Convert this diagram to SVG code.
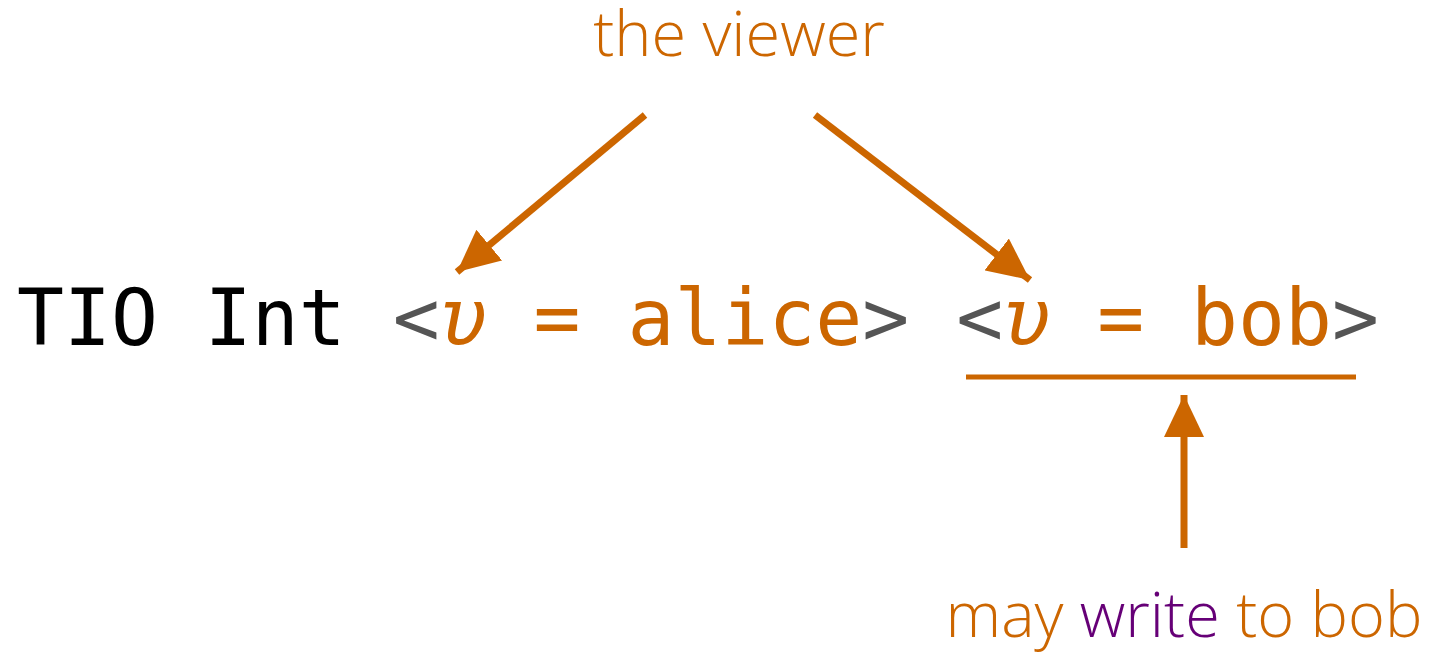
<svg xmlns="http://www.w3.org/2000/svg" width="1433" height="653" viewBox="0 0 1433 653">
<style>
.mono{font-family:"DejaVu Sans Mono",monospace;font-size:78px}
.lbl{font-family:"Open Sans","Liberation Sans",sans-serif;font-weight:300;font-size:63px}
.or{fill:#CC6600}.gr{fill:#555555}.bk{fill:#000000}.pu{fill:#660077}
.it{font-style:italic}
.conn{stroke:#CC6600;stroke-width:7;fill:none}
</style>
<defs>
<marker id="ah" markerUnits="userSpaceOnUse" markerWidth="44" markerHeight="40" refX="42" refY="20" orient="auto" viewBox="0 0 44 40">
<path d="M0,0 L42,20 L0,40 Z" fill="#CC6600"/>
</marker>
</defs>
<g id="type-expr">
<text class="mono" x="17" y="345"><tspan class="bk">TIO Int </tspan><tspan class="gr">&lt;</tspan><tspan class="or it">υ</tspan><tspan class="or"> = alice</tspan><tspan class="gr">&gt; &lt;</tspan><tspan class="or it">υ</tspan><tspan class="or"> = bob</tspan><tspan class="gr">&gt;</tspan></text>
</g>
<g id="label-viewer">
<text class="lbl or" x="739" y="56" text-anchor="middle">the viewer</text>
</g>
<g id="label-write">
<text class="lbl" x="1184" y="637" text-anchor="middle"><tspan class="or">may </tspan><tspan class="pu">write</tspan><tspan class="or"> to bob</tspan></text>
</g>
<g id="underline">
<line x1="966" y1="377" x2="1356" y2="377" stroke="#CC6600" stroke-width="5"/>
</g>
<g id="connectors">
<line class="conn" x1="645" y1="115" x2="457" y2="272" marker-end="url(#ah)"/>
<line class="conn" x1="815" y1="115" x2="1030" y2="280" marker-end="url(#ah)"/>
<line class="conn" x1="1184" y1="548" x2="1184" y2="395" marker-end="url(#ah)"/>
</g>
</svg>
